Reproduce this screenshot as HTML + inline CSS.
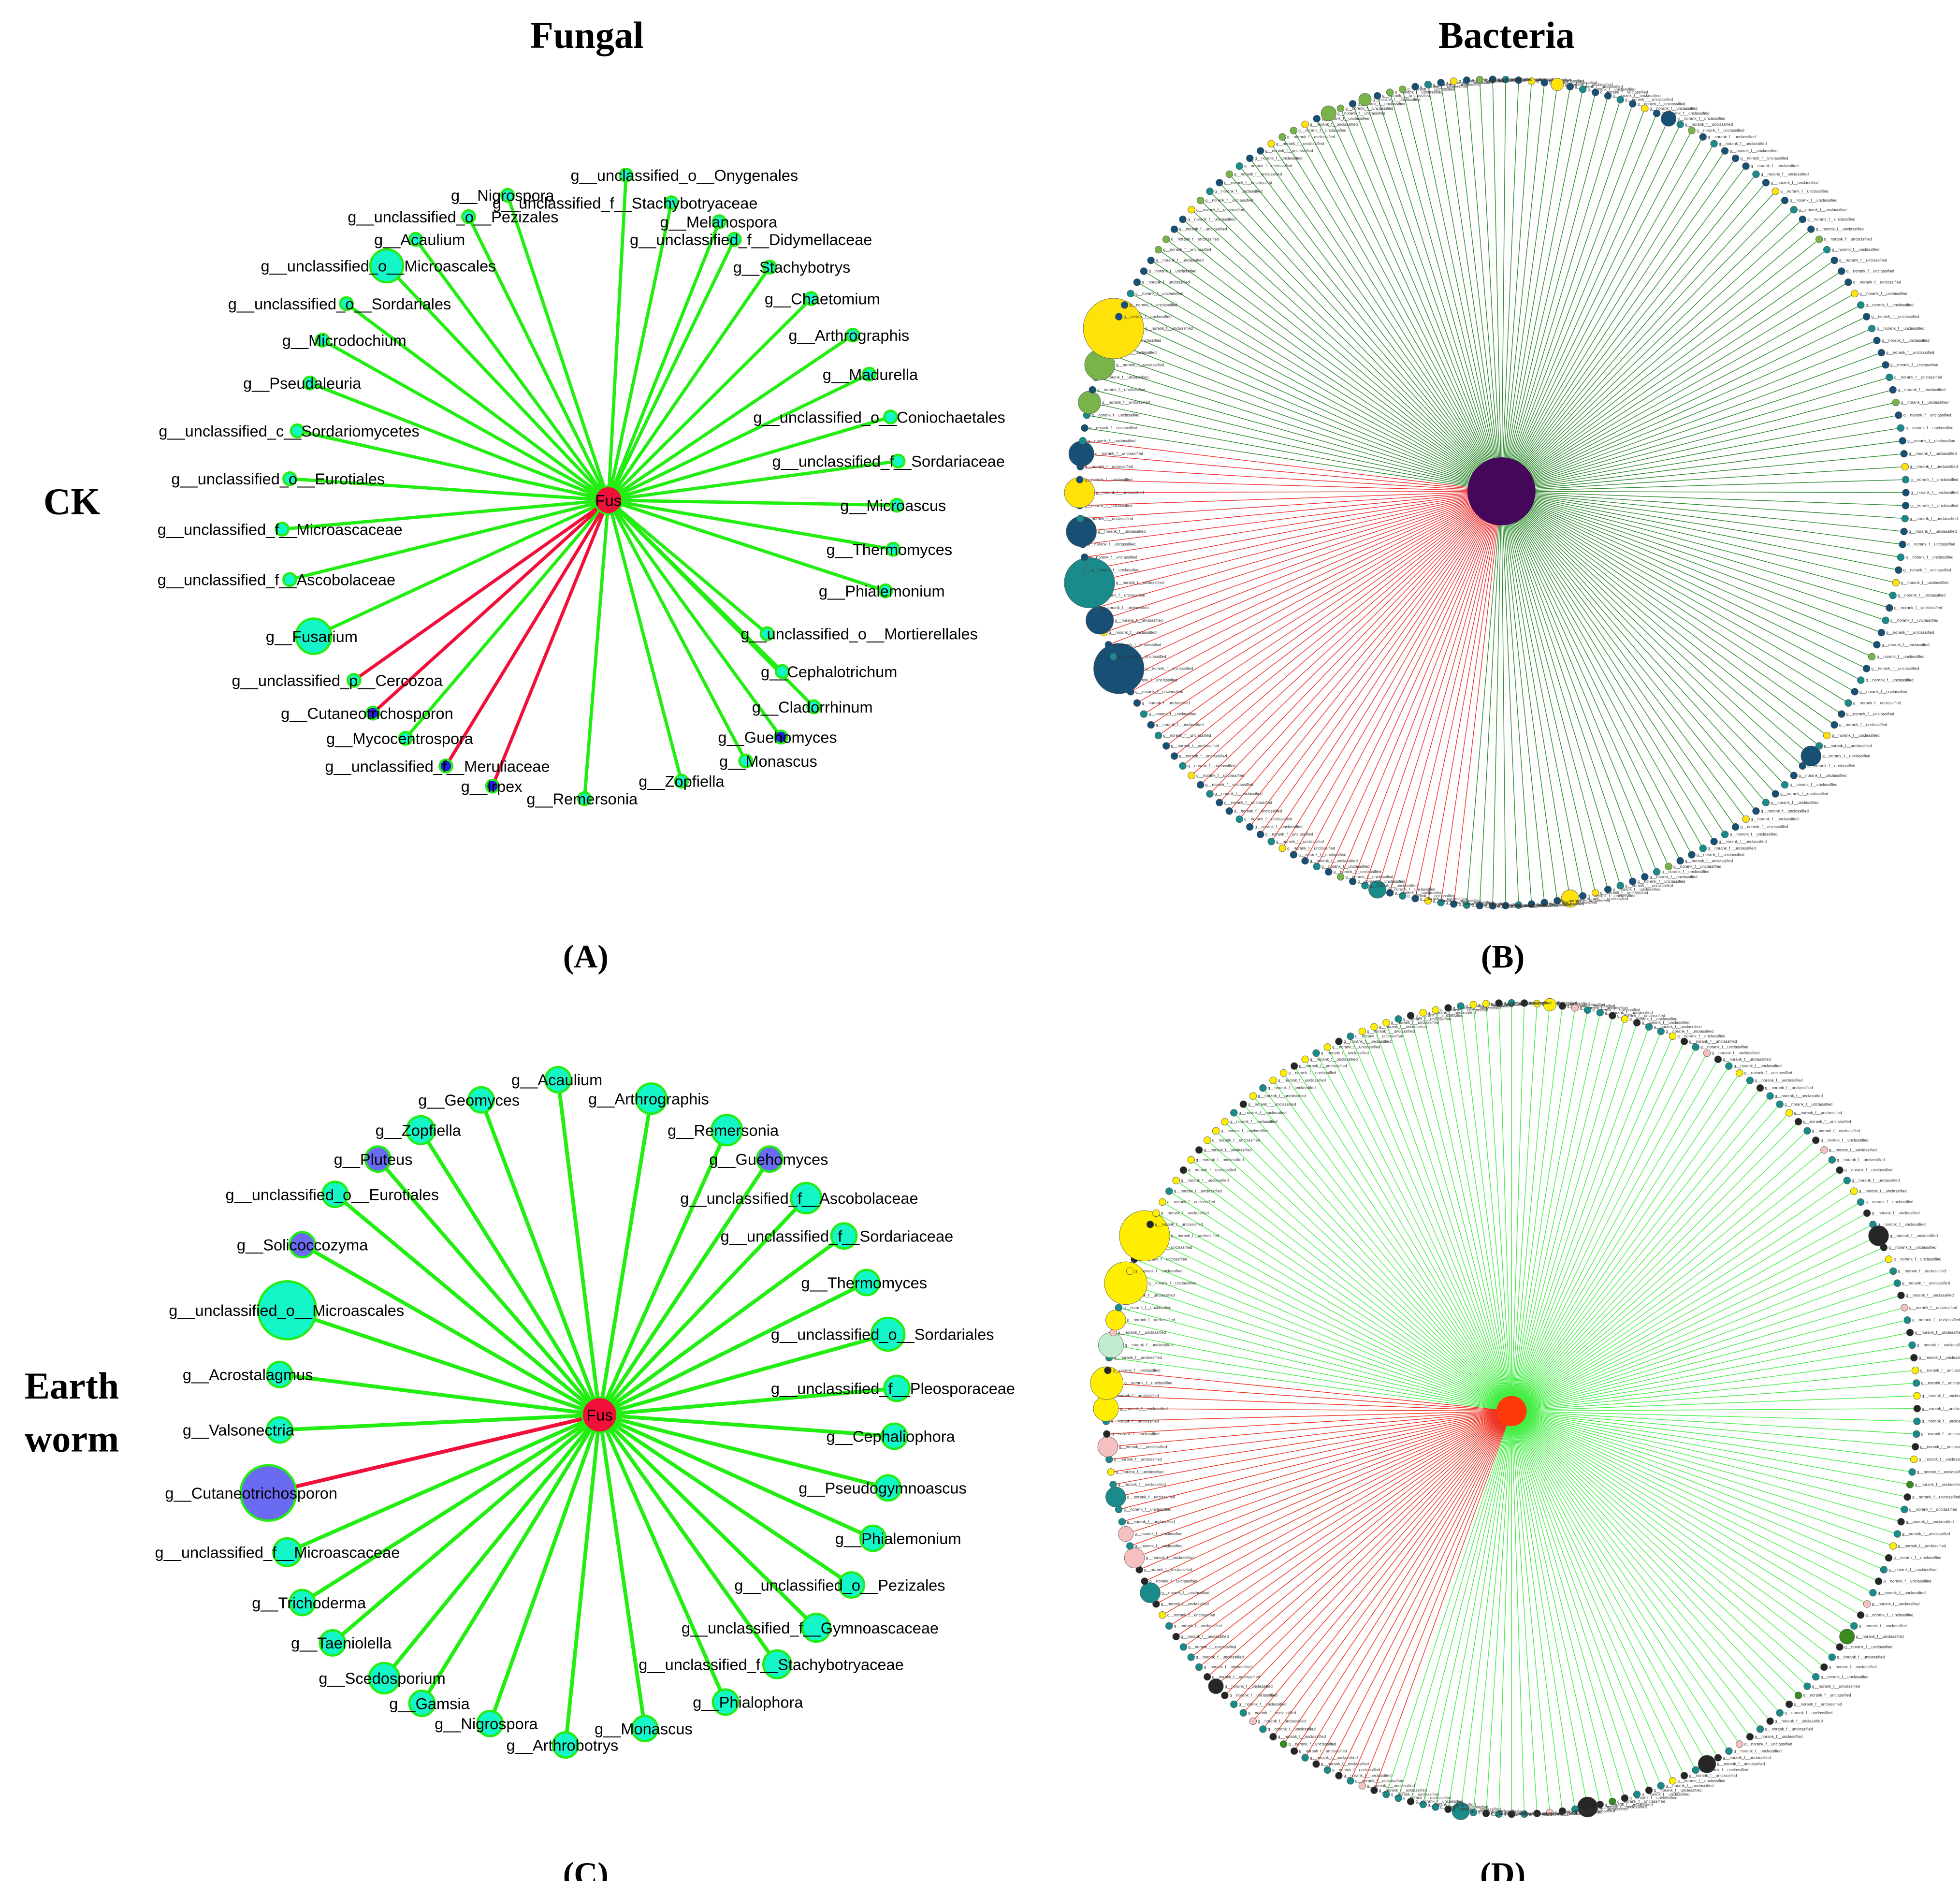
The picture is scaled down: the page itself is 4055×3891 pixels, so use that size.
<!DOCTYPE html>
<html><head><meta charset="utf-8"><style>
html,body{margin:0;padding:0;background:#fff}
svg{display:block}
.fl{font-family:"Liberation Sans",sans-serif;font-size:12.5px;fill:#000}
.tt{font-family:"Liberation Serif",serif;font-weight:bold;fill:#000}
.bl{font-family:"Liberation Sans",sans-serif;font-size:3.2px;fill:#333}
</style></head><body>
<svg id="fig" width="4055" height="3891" viewBox="0 0 1556 1493" preserveAspectRatio="none" xmlns="http://www.w3.org/2000/svg">
<rect width="1556" height="1493" fill="#fff"/>
<text class="tt" x="466" y="38" font-size="30" text-anchor="middle">Fungal</text>
<text class="tt" x="1196" y="38" font-size="30" text-anchor="middle">Bacteria</text>
<text class="tt" x="57" y="408" font-size="30" text-anchor="middle">CK</text>
<text class="tt" x="57" y="1110" font-size="30" text-anchor="middle">Earth</text>
<text class="tt" x="57" y="1152" font-size="30" text-anchor="middle">worm</text>
<text class="tt" x="465" y="768" font-size="26" text-anchor="middle">(A)</text>
<text class="tt" x="1193" y="768" font-size="26" text-anchor="middle">(B)</text>
<text class="tt" x="465" y="1496" font-size="26" text-anchor="middle">(C)</text>
<text class="tt" x="1193" y="1496" font-size="26" text-anchor="middle">(D)</text>
<g id="pA"></g>
<g id="pB"></g>
<g id="pC"></g>
<g id="pD"></g>
</svg>
<script>
// Fungal panel A: [label, x, y, r, type, labelX]; type g=aqua/green edge, r=aqua/red edge, b=blue/red edge, B=blue/green edge
const nodesA=[
["g__unclassified_o__Onygenales",497,139,5,"g",453],["g__Nigrospora",403,155,5,"g",358],
["g__unclassified_f__Stachybotryaceae",533,161,5,"g",391],["g__unclassified_o__Pezizales",372,172,5,"g",276],
["g__Melanospora",571,176,5,"g",524],["g__Acaulium",330,190,5,"g",297],
["g__unclassified_f__Didymellaceae",583,190,5,"g",500],["g__unclassified_o__Microascales",307,211,13,"g",207],
["g__Stachybotrys",611,212,5,"g",582],["g__unclassified_o__Sordariales",275,241,5,"g",181],
["g__Chaetomium",644,237,5,"g",607],["g__Arthrographis",677,266,5,"g",626],
["g__Microdochium",256,270,5,"g",224],["g__Madurella",690,297,5,"g",653],
["g__Pseudaleuria",246,304,5,"g",193],["g__unclassified_o__Coniochaetales",707,331,5,"g",598],
["g__unclassified_c__Sordariomycetes",236,342,5,"g",126],["g__unclassified_f__Sordariaceae",713,366,5,"g",613],
["g__unclassified_o__Eurotiales",230,380,5,"g",136],["g__Microascus",712,401,5,"g",667],
["g__unclassified_f__Microascaceae",224,420,5,"g",125],["g__Thermomyces",709,436,5,"g",656],
["g__unclassified_f__Ascobolaceae",230,460,5,"g",125],["g__Phialemonium",703,469,5,"g",650],
["g__Fusarium",249,505,14,"g",211],["g__unclassified_o__Mortierellales",609,503,5,"g",588],
["g__unclassified_p__Cercozoa",281,540,5,"r",184],["g__Cephalotrichum",621,533,5,"g",604],
["g__Cutaneotrichosporon",296,566,5,"b",223],["g__Cladorrhinum",646,561,5,"g",597],
["g__Mycocentrospora",322,586,5,"g",259],["g__Guehomyces",620,585,5,"B",570],
["g__unclassified_f__Meruliaceae",354,608,5,"b",258],["g__Monascus",592,604,5,"g",571],
["g__Irpex",391,624,5,"b",366],["g__Zopfiella",541,620,5,"g",507],["g__Remersonia",464,634,5,"g",418]];
const hubA=[483,397,11];
// Fungal panel C
const nodesC=[
["g__Acaulium",443,857,10,"g",406],["g__Geomyces",382,873,10,"g",332],["g__Arthrographis",517,872,12,"g",467],
["g__Zopfiella",334,897,11,"g",298],["g__Remersonia",577,897,12,"g",530],["g__Pluteus",300,920,10,"B",265],
["g__Guehomyces",611,920,10,"B",563],["g__unclassified_o__Eurotiales",266,948,10,"g",179],
["g__unclassified_f__Ascobolaceae",640,951,12,"g",540],["g__Solicoccozyma",240,988,10,"B",188],
["g__unclassified_f__Sordariaceae",670,981,10,"g",572],["g__unclassified_o__Microascales",228,1040,23,"g",134],
["g__Thermomyces",688,1018,10,"g",636],["g__unclassified_o__Sordariales",705,1059,13,"g",612],
["g__Acrostalagmus",222,1091,10,"g",145],["g__unclassified_f__Pleosporaceae",712,1102,10,"g",612],
["g__Valsonectria",222,1135,10,"g",145],["g__Cephaliophora",710,1140,10,"g",656],
["g__Cutaneotrichosporon",213,1185,22,"b",131],["g__Pseudogymnoascus",705,1181,10,"g",634],
["g__unclassified_f__Microascaceae",228,1232,11,"g",123],["g__Phialemonium",693,1221,10,"g",663],
["g__Trichoderma",240,1272,10,"g",200],["g__unclassified_o__Pezizales",676,1258,10,"g",583],
["g__Taeniolella",264,1304,10,"g",231],["g__unclassified_f__Gymnoascaceae",648,1292,11,"g",541],
["g__Scedosporium",305,1332,12,"g",253],["g__unclassified_f__Stachybotryaceae",617,1321,11,"g",507],
["g__Gamsia",335,1352,10,"g",309],["g__Phialophora",576,1351,10,"g",550],
["g__Nigrospora",389,1368,10,"g",345],["g__Monascus",512,1372,10,"g",472],["g__Arthrobotrys",449,1385,10,"g",402]];
const hubC=[476,1123,14];

// Bacteria panels: small-node colour codes (one per node index), big nodes [index, radius, code], red-edge index ranges
const colorsB="dtdydldtdd"+"tdyddtldtd"+"ddtdydtddl"+"tdddytdtdd"+"dtdldtddyt"+"ddtddtdytd"+"tddldtdtdd"+"ytdddtdtdy"+"dtdtddltdd"+"tdydtdddtd"+"ddtdtydtdd"+"tdldtddytd"+"dtddtdytdd"+"tdtddldtdy"+"ddtdtdddtd"+"tddytdtddl"+"dldyddtddd"+"llddyltdlt"+"ddyllydtld"+"ydlldtdydl";
const bigB=[[163,24,"y"],[160,12,"l"],[157,9,"l"],[153,10,"d"],[150,12,"y"],[147,12,"d"],[143,20,"t"],[140,11,"d"],[136,20,"d"],[72,8,"d"],[14,6,"d"],[94,7,"y"],[109,7,"t"],[187,6,"l"],[5,5,"y"],[190,5,"l"]];
const redB=[[103,154]];
const colorsD="tkytkpttky"+"kttyktpkty"+"tkttyktkpt"+"ktytkttkyt"+"tkptktkyty"+"kttkytgktk"+"tyktktpkty"+"ktkttgktkt"+"kptkttkytk"+"tkgkttkpkt"+"ktktpkttkt"+"tkptktktkg"+"ktpttkpktt"+"tktyktkkyt"+"kttktytkkt"+"tytktkpkty"+"yyktykyyty"+"kykyyytkyt"+"yykytyktyy"+"ytkyyktyyk";
const bigD=[[164,20,"y"],[160,17,"y"],[157,8,"y"],[155,10,"q"],[152,13,"y"],[150,10,"y"],[147,8,"p"],[143,8,"t"],[140,6,"p"],[138,8,"p"],[135,8,"t"],[126,6,"k"],[94,8,"k"],[104,7,"t"],[36,8,"k"],[69,6,"g"],[84,7,"k"],[3,5,"y"]];
const redD=[[111,153]];

const NS="http://www.w3.org/2000/svg";
function mk(tag,attrs,parent){const e=document.createElementNS(NS,tag);for(const k in attrs)e.setAttribute(k,attrs[k]);parent.appendChild(e);return e;}

function fungal(gid,nodes,hub,ew,aqua){
  const g=document.getElementById(gid);
  nodes.forEach(n=>{
    const red=(n[4]==="r"||n[4]==="b");
    const l=mk("line",{x1:hub[0],y1:hub[1],x2:n[1],y2:n[2],stroke:red?"#f0103a":"#22ee11","stroke-width":ew},g);
    
    
  });
  nodes.forEach(n=>{
    const blue=(n[4]==="b"||n[4]==="B");
    const c=mk("circle",{cx:n[1],cy:n[2],r:n[3],fill:blue?(aqua?"#6a6af2":"#2020e0"):"#14f5c8",stroke:"#22ee11","stroke-width":1.8},g);
    
    
  });
  const h=mk("circle",{cx:hub[0],cy:hub[1],r:hub[2],fill:"#f0103a",stroke:"#22ee11","stroke-width":1.5},g);
  
  
  const ht=mk("text",{x:hub[0],y:hub[1]+4.5,class:"fl","text-anchor":"middle"},g);ht.textContent="Fus";
  
  
  nodes.forEach(n=>{
    const t=mk("text",{x:n[5],y:n[2]+4.5,class:"fl"},g);t.textContent=n[0];
    
    
  });
}
fungal("pA",nodesA,hubA,2.6,false);
fungal("pC",nodesC,hubC,3,true);

const palB={d:"#174f75",t:"#1a8b8b",y:"#ffe20a",l:"#78b44a",p:"#45075a"};
const palD={t:"#1a8b8b",k:"#262626",y:"#ffee00",p:"#f6c0c0",g:"#3a8a20",q:"#c0ecd0",v:"#7a3a8a"};
function bact(gid,colors,big,reds,cx,cy,R,hub,hubR,hubCol,green,red,ew,pal){
  const g=document.getElementById(gid);
  const N=colors.length;
  const bigMap={};big.forEach(b=>bigMap[b[0]]=b);
  const pos=i=>{const a=(-90+i*360/N)*Math.PI/180;return [cx+R*Math.cos(a),cy+R*Math.sin(a)];};
  const isRed=i=>reds.some(r=>i>=r[0]&&i<=r[1]);
  for(let i=0;i<N;i++){
    const p=pos(i);
    const l=mk("line",{x1:hub[0],y1:hub[1],x2:p[0],y2:p[1],stroke:isRed(i)?red:green,"stroke-width":ew},g);
    
    
  }
  for(let i=0;i<N;i++){
    const p=pos(i);const b=bigMap[i];
    const r=b?b[1]:2.8;const col=pal[b?b[2]:colors[i]];
    const c=mk("circle",{cx:p[0],cy:p[1],r:r,fill:col,stroke:"#555","stroke-width":0.3},g);
    
    
    const t=mk("text",{x:p[0]+r+1,y:p[1]+1,class:"bl"},g);t.textContent="g__norank_f__unclassified";
    
    
  }
  const h=mk("circle",{cx:hub[0],cy:hub[1],r:hubR,fill:hubCol},g);
  
  
}
bact("pB",colorsB,bigB,redB,1185,391,328,[1192,390],27,"#45075a","#2e8b2e","#f03030",0.55,palB);
bact("pD",colorsD,bigD,redD,1200,1118,322,[1200,1120],12,"#ff3a0a","#44ee44","#ee3322",0.55,palD);
</script>
</body></html>
